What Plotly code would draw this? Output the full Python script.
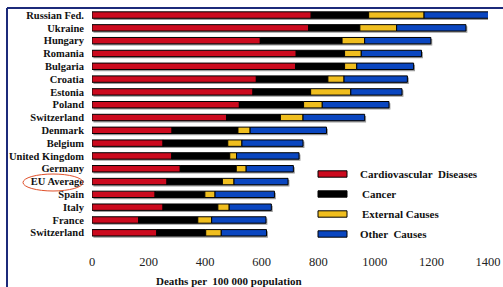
import plotly.graph_objects as go
import numpy as np

countries = ["Russian Fed.", "Ukraine", "Hungary", "Romania", "Bulgaria", "Croatia",
             "Estonia", "Poland", "Switzerland", "Denmark", "Belgium", "United Kingdom",
             "Germany", "EU Average", "Spain", "Italy", "France", "Switzerland"]
cardiovascular = [775, 766, 595, 722, 720, 581, 569, 521, 476, 283, 251, 282, 312, 265, 223, 251, 165, 229]
cancer =         [203, 181, 289, 171, 173, 253, 204, 227, 190, 233, 229, 205, 198, 196, 176, 194, 209, 173]
external =       [196, 130,  80,  59,  43,  57, 142,  66,  80,  43,  50,  24,  35,  41,  36,  40,  49,  55]
other =          [264, 245, 234, 213, 201, 224, 181, 236, 218, 270, 216, 221, 167, 191, 210, 149, 192, 160]
series_names = ["Cardiovascular  Diseases", "Cancer", "External Causes", "Other  Causes"]
series_colors = ["#CC0A1E", "#000000", "#F0BE1E", "#0A46C0"]
x_ticks = [0, 200, 400, 600, 800, 1000, 1200, 1400]

W, H = 503, 287
L, R, T, B = 92, 488, 8, 252
SERIF = "Liberation Serif, Times New Roman, serif"
pos = list(range(len(countries)))
series = [cardiovascular, cancer, external, other]
totals = np.sum(np.array(series), axis=0)

fig = go.Figure()
# shadow
fig.add_trace(go.Bar(y=pos, x=totals, base=5, orientation="h", width=0.5, offset=-0.12,
                     marker=dict(color="#9a9a9a", line=dict(width=0)), showlegend=False,
                     hoverinfo="skip"))
base = np.zeros(len(countries))
for name, vals, col in zip(series_names, series, series_colors):
    fig.add_trace(go.Bar(y=pos, x=vals, base=base.copy(), orientation="h", width=0.5,
                         name=name, marker=dict(color=col, line=dict(color="#000000", width=1)),
                         showlegend=False))
    base = base + np.array(vals)

def px_x(px):
    return (px - L) / (R - L)

def px_y(py):
    return (B - py) / (B - T)

shapes = []
# frame
shapes.append(dict(type="line", xref="paper", yref="paper", x0=px_x(7), x1=px_x(510),
                   y0=px_y(8), y1=px_y(8), line=dict(color="#1C2A7A", width=2)))
shapes.append(dict(type="line", xref="paper", yref="paper", x0=px_x(7), x1=px_x(7),
                   y0=px_y(8), y1=px_y(300), line=dict(color="#1C2A7A", width=2)))
# ellipse around EU Average
shapes.append(dict(type="circle", xref="paper", yref="paper", x0=px_x(23), x1=px_x(83),
                   y0=px_y(191), y1=px_y(174), line=dict(color="#E0502A", width=1)))
annotations = []
legend_y = [174, 194, 214, 234]
legend_tx = [358, 360, 360, 358]
for name, col, ly, tx in zip(series_names, series_colors, legend_y, legend_tx):
    shapes.append(dict(type="rect", xref="paper", yref="paper", x0=px_x(318), x1=px_x(347),
                       y0=px_y(ly + 3.2), y1=px_y(ly - 3.2), fillcolor=col,
                       line=dict(color="#000000", width=1)))
    annotations.append(dict(xref="paper", yref="paper", x=px_x(tx), y=px_y(ly), text="<b>" + name + "</b>",
                            showarrow=False, xanchor="left", yanchor="middle",
                            font=dict(family=SERIF, size=11, color="#111111")))
annotations.append(dict(xref="paper", yref="paper", x=px_x(229), y=px_y(281),
                        text="<b>Deaths per  100 000 population</b>", showarrow=False,
                        xanchor="center", yanchor="middle",
                        font=dict(family=SERIF, size=11, color="#111111")))

fig.update_layout(
    width=W, height=H, barmode="overlay",
    margin=dict(l=L, r=W - R, t=T, b=H - B, pad=0),
    paper_bgcolor="white", plot_bgcolor="white",
    font=dict(family=SERIF),
    shapes=shapes, annotations=annotations,
    xaxis=dict(range=[0, 1400], tickvals=x_ticks, showgrid=False, zeroline=False,
               showline=False, ticks="", automargin=False,
               tickfont=dict(family=SERIF, size=12.5, color="#222222"),
               ticklabelstandoff=0),
    yaxis=dict(range=[18.5, -0.55], tickvals=pos, ticktext=["<b>" + c + "</b>" for c in countries],
               showgrid=False, automargin=False,
               zeroline=False, showline=False, ticks="",
               tickfont=dict(family=SERIF, size=10.5, color="#111111"),
               ticklabelstandoff=7),
)
fig.write_html("out.html", config={"displayModeBar": False},
               post_script="document.body.style.margin='0';document.body.style.overflow='hidden';")
